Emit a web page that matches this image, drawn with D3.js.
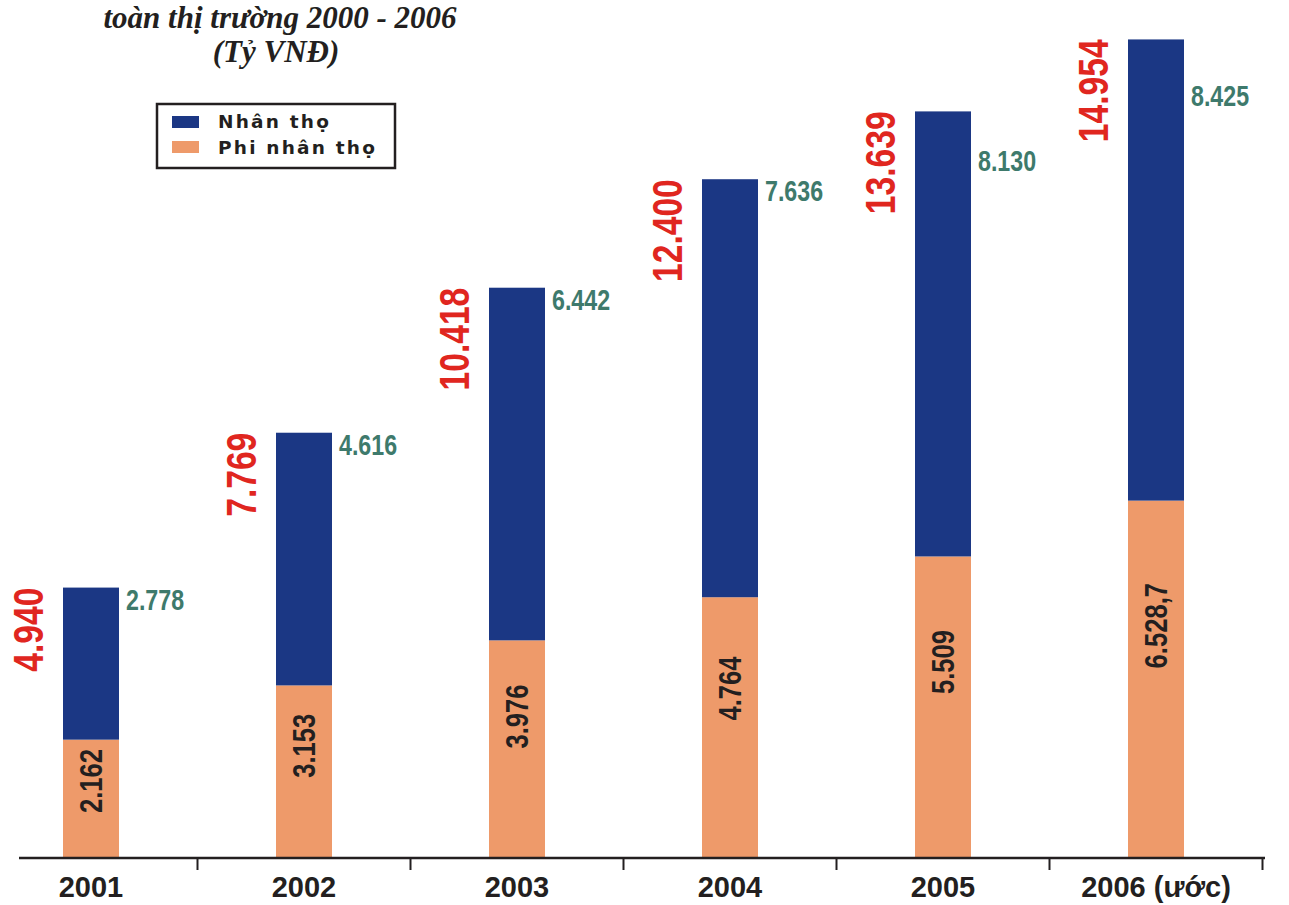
<!DOCTYPE html>
<html>
<head>
<meta charset="utf-8">
<script src="https://cdnjs.cloudflare.com/ajax/libs/d3/7.8.5/d3.min.js"></script>
<style>
  html, body { margin: 0; padding: 0; background: #fff; }
  svg { display: block; }
</style>
</head>
<body>
<div id="chart"></div>
<script>
// data (ty VND)
var years = ["2001", "2002", "2003", "2004", "2005", "2006 (ước)"];
var nhanTho = [2.778, 4.616, 6.442, 7.636, 8.130, 8.425];
var phiNhanTho = [2.162, 3.153, 3.976, 4.764, 5.509, 6.5287];
var totalLabels = ["4.940", "7.769", "10.418", "12.400", "13.639", "14.954"];
var nhanThoLabels = ["2.778", "4.616", "6.442", "7.636", "8.130", "8.425"];
var phiLabels = ["2.162", "3.153", "3.976", "4.764", "5.509", "6.528,7"];
var seriesNames = ["Nhân thọ", "Phi nhân thọ"];

var W = 1289, H = 905;
var blue = "#1b3784", orange = "#ee9a6a", red = "#e0261f", green = "#3e7a6c", ink = "#231f20";
var sans = "'Liberation Sans', Arial, sans-serif";
var squeeze = " scale(0.8,1)"; // no narrow font here, so squeeze along the text

var svg = d3.select("#chart").append("svg")
    .attr("width", W).attr("height", H);

var x = d3.scalePoint().domain(years).range([91, 1156]);
var step = x.step();
var y = d3.scaleLinear().domain([0, 15.4]).range([858, 15]);
var barW = 56;

var rows = years.map(function(yr, i) {
  return { year: yr, phi: phiNhanTho[i], nhan: nhanTho[i], i: i };
});
var stack = d3.stack().keys(["phi", "nhan"])(rows);
var colors = { phi: orange, nhan: blue };

// bars
svg.selectAll("g.layer").data(stack).enter().append("g")
    .attr("class", "layer")
    .attr("fill", function(d) { return colors[d.key]; })
  .selectAll("rect").data(function(d) { return d; }).enter().append("rect")
    .attr("x", function(d) { return x(d.data.year) - barW / 2; })
    .attr("y", function(d) { return y(d[1]); })
    .attr("width", barW)
    .attr("height", function(d) { return y(d[0]) - y(d[1]); });

// axis line + ticks between categories
var axisG = svg.append("g").attr("transform", "translate(0," + y(0) + ")");
axisG.append("line")
    .attr("x1", 19).attr("x2", 1265)
    .attr("stroke", ink).attr("stroke-width", 2.5);
axisG.selectAll("line.tick").data(years).enter().append("line")
    .attr("class", "tick")
    .attr("x1", function(d) { return x(d) + step / 2; })
    .attr("x2", function(d) { return x(d) + step / 2; })
    .attr("y1", 0).attr("y2", 12)
    .attr("stroke", ink).attr("stroke-width", 2);
axisG.selectAll("text").data(years).enter().append("text")
    .attr("x", function(d) { return x(d); })
    .attr("y", 39)
    .attr("text-anchor", "middle")
    .attr("font-family", sans)
    .attr("font-weight", "bold")
    .attr("font-size", 29)
    .attr("fill", ink)
    .text(function(d) { return d; });

// red totals, rotated, left of bar
var topLayer = stack[1];
svg.selectAll("text.total").data(topLayer).enter().append("text")
    .attr("class", "total")
    .attr("transform", function(d) {
      return "translate(" + (x(d.data.year) - barW / 2 - 20) + "," + y(d[1]) + ") rotate(-90)" + squeeze;
    })
    .attr("text-anchor", "end")
    .attr("font-family", sans)
    .attr("font-weight", "bold")
    .attr("font-size", 42)
    .attr("fill", red)
    .text(function(d, i) { return totalLabels[i]; });

// green nhan tho values, right of bar
var greenShift = [0, 0, 0, 0, 38, 45];
svg.selectAll("text.nhan").data(topLayer).enter().append("text")
    .attr("class", "nhan")
    .attr("transform", function(d, i) {
      return "translate(" + (x(d.data.year) + barW / 2 + 7) + "," + (y(d[1]) + 22 + greenShift[i]) + ")" + squeeze;
    })
    .attr("font-family", sans)
    .attr("font-weight", "bold")
    .attr("font-size", 29)
    .attr("fill", green)
    .text(function(d, i) { return nhanThoLabels[i]; });

// black phi values inside orange segment
svg.selectAll("text.phi").data(stack[0]).enter().append("text")
    .attr("class", "phi")
    .attr("transform", function(d) {
      var h = y(d[0]) - y(d[1]);
      var cy = y(d[1]) + h / 2 - 0.15 * h;
      return "translate(" + x(d.data.year) + "," + cy + ") rotate(-90)" + squeeze;
    })
    .attr("text-anchor", "middle")
    .attr("dominant-baseline", "central")
    .attr("font-family", sans)
    .attr("font-weight", "bold")
    .attr("font-size", 32)
    .attr("fill", ink)
    .text(function(d, i) { return phiLabels[i]; });

// title (top line is cut off in the source)
var title = svg.append("g")
    .attr("font-family", "'Liberation Serif', 'Times New Roman', serif")
    .attr("font-weight", "bold")
    .attr("font-style", "italic")
    .attr("font-size", 31)
    .attr("fill", ink)
    .attr("text-anchor", "middle");
title.append("text").attr("x", 280).attr("y", 28).text("toàn thị trường 2000 - 2006");
title.append("text").attr("x", 276).attr("y", 62).text("(Tỷ VNĐ)");

// legend
var lg = svg.append("g").attr("transform", "translate(157,104)");
lg.append("rect")
    .attr("width", 238).attr("height", 64)
    .attr("fill", "#fff").attr("stroke", ink).attr("stroke-width", 2.5);
lg.selectAll("rect.sw").data(seriesNames).enter().append("rect")
    .attr("class", "sw")
    .attr("x", 15).attr("y", function(d, i) { return 12 + i * 25; })
    .attr("width", 27).attr("height", 12)
    .attr("fill", function(d, i) { return i === 0 ? blue : orange; });
lg.selectAll("text").data(seriesNames).enter().append("text")
    .attr("x", 61).attr("y", function(d, i) { return 24 + i * 26; })
    .attr("font-family", "'DejaVu Sans', Verdana, sans-serif")
    .attr("font-weight", "bold")
    .attr("font-size", 18.5)
    .attr("letter-spacing", 2.2)
    .attr("fill", ink)
    .text(function(d) { return d; });
</script>
</body>
</html>
